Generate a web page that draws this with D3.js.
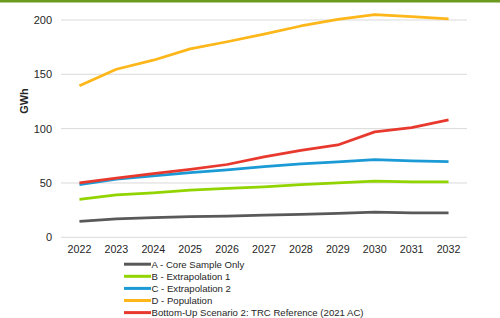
<!DOCTYPE html>
<html><head><meta charset="utf-8">
<script src="https://cdn.jsdelivr.net/npm/d3@7"></script>
<style>body{margin:0;background:#fff;} svg{display:block;font-family:Arial,"Liberation Sans",sans-serif;}</style>
</head><body><svg id="c" width="500" height="318"></svg>
<script>
const years = ["2022","2023","2024","2025","2026","2027","2028","2029","2030","2031","2032"];
const seriesNames = ["A - Core Sample Only","B - Extrapolation 1","C - Extrapolation 2","D - Population","Bottom-Up Scenario 2: TRC Reference (2021 AC)"];
const seriesA = [14.7,17,18,19,19.5,20.5,21,22,23.2,22.5,22.4];
const seriesB = [35,39,41,43.5,45,46.5,48.5,50,51.6,51,51];
const seriesC = [48.5,53.5,56.5,59.5,62,65,67.5,69.5,71.5,70.3,69.7];
const seriesD = [139.4,154.7,163,173.4,180,187,194.5,200.5,205,203,201];
const seriesE = [50,54.5,58.5,62.5,67,74,80,85,97,101,108];
const yTicks = [0,50,100,150,200];
const colors = ["#595959","#92d400","#1c9ad6","#fdb71a","#e8392f"];
const allSeries = [seriesA,seriesB,seriesC,seriesD,seriesE];

const svg = d3.select("#c");
svg.append("rect").attr("x",0).attr("y",0).attr("width",500).attr("height",2.5).attr("fill","#6b9a1f");

const x = d3.scaleBand().domain(years).range([61,467]);
const y = d3.scaleLinear().domain([0,200]).range([237.3,20]);

svg.append("g").selectAll("line").data(yTicks).join("line")
  .attr("x1",61).attr("x2",467).attr("y1",d=>y(d)).attr("y2",d=>y(d))
  .attr("stroke","#d9d9d9").attr("stroke-width",1);

const yAxis = svg.append("g").attr("transform","translate(61,0)")
  .call(d3.axisLeft(y).tickValues(yTicks).tickSize(0).tickPadding(9));
yAxis.select(".domain").remove();
yAxis.selectAll("text").attr("font-size",11).attr("fill","#262626").attr("font-family","Arial, 'Liberation Sans', sans-serif");

const xAxis = svg.append("g").attr("transform","translate(0,237.3)")
  .call(d3.axisBottom(x).tickSize(0).tickPadding(8));
xAxis.select(".domain").remove();
xAxis.selectAll("text").attr("font-size",10.7).attr("fill","#262626").attr("font-family","Arial, 'Liberation Sans', sans-serif");

svg.append("text").attr("transform","translate(28,101) rotate(-90)")
  .attr("text-anchor","middle").attr("font-size",11).attr("font-weight","bold").attr("fill","#262626").text("GWh");

const line = d3.line().x((d,i)=>x(years[i])+x.bandwidth()/2).y(d=>y(d));
svg.append("g").selectAll("path").data(allSeries).join("path")
  .attr("d",d=>line(d)).attr("fill","none")
  .attr("stroke",(d,i)=>colors[i]).attr("stroke-width",2.75)
  .attr("stroke-linejoin","round");

const leg = svg.append("g").selectAll("g").data(seriesNames).join("g")
  .attr("transform",(d,i)=>`translate(124,${264.2+i*12.1})`);
leg.append("line").attr("x1",0).attr("x2",27).attr("y1",0).attr("y2",0)
  .attr("stroke",(d,i)=>colors[i]).attr("stroke-width",3);
leg.append("text").attr("x",27.5).attr("y",0).attr("dy","0.35em")
  .attr("font-size",9.6).attr("fill","#262626").text(d=>d);
</script></body></html>
